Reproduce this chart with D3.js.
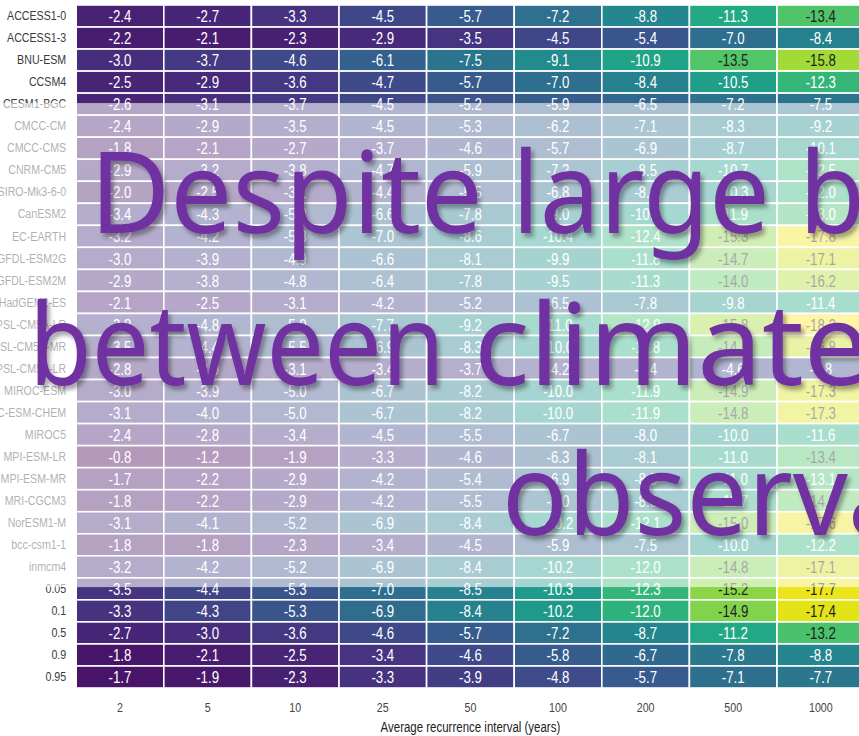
<!DOCTYPE html>
<html>
<head>
<meta charset="utf-8">
<script src="https://cdn.jsdelivr.net/npm/d3@7"></script>
<style>
  html, body { margin: 0; padding: 0; background: #fff; overflow: hidden; }
  svg { display: block; }
</style>
</head>
<body>
<svg id="chart" width="859" height="736"></svg>
<script>
// Return-interval columns (years)
const intervals = ["2", "5", "10", "25", "50", "100", "200", "500", "1000"];

// CMIP5 models, one row each
const models = [
  "ACCESS1-0", "ACCESS1-3", "BNU-ESM", "CCSM4", "CESM1-BGC", "CMCC-CM", "CMCC-CMS",
  "CNRM-CM5", "CSIRO-Mk3-6-0", "CanESM2", "EC-EARTH", "GFDL-ESM2G", "GFDL-ESM2M",
  "HadGEM2-ES", "IPSL-CM5A-LR", "IPSL-CM5A-MR", "IPSL-CM5B-LR", "MIROC-ESM",
  "MIROC-ESM-CHEM", "MIROC5", "MPI-ESM-LR", "MPI-ESM-MR", "MRI-CGCM3", "NorESM1-M",
  "bcc-csm1-1", "inmcm4"
];

// Ensemble quantile rows
const quantiles = ["0.05", "0.1", "0.5", "0.9", "0.95"];

// Change per model, by return interval
const modelValues = [
  [-2.4, -2.7, -3.3, -4.5, -5.7, -7.2, -8.8, -11.3, -13.4],
  [-2.2, -2.1, -2.3, -2.9, -3.5, -4.5, -5.4, -7.0, -8.4],
  [-3.0, -3.7, -4.6, -6.1, -7.5, -9.1, -10.9, -13.5, -15.8],
  [-2.5, -2.9, -3.6, -4.7, -5.7, -7.0, -8.4, -10.5, -12.3],
  [-2.6, -3.1, -3.7, -4.5, -5.2, -5.9, -6.5, -7.2, -7.5],
  [-2.4, -2.9, -3.5, -4.5, -5.3, -6.2, -7.1, -8.3, -9.2],
  [-1.8, -2.1, -2.7, -3.7, -4.6, -5.7, -6.9, -8.7, -10.1],
  [-2.9, -3.2, -3.8, -4.7, -5.9, -7.2, -8.5, -10.7, -12.5],
  [-2.0, -2.5, -3.2, -4.4, -5.5, -6.8, -8.4, -10.3, -12.0],
  [-3.4, -4.3, -5.2, -6.6, -7.8, -9.0, -10.4, -11.9, -13.0],
  [-3.2, -4.2, -5.3, -7.0, -8.6, -10.4, -12.4, -15.3, -17.8],
  [-3.0, -3.9, -4.9, -6.6, -8.1, -9.9, -11.8, -14.7, -17.1],
  [-2.9, -3.8, -4.8, -6.4, -7.8, -9.5, -11.3, -14.0, -16.2],
  [-2.1, -2.5, -3.1, -4.2, -5.2, -6.5, -7.8, -9.8, -11.4],
  [-3.8, -4.8, -5.9, -7.7, -9.2, -11.0, -12.9, -15.8, -18.2],
  [-3.5, -4.4, -5.5, -6.9, -8.3, -10.0, -11.8, -14.5, -16.8],
  [-2.8, -2.9, -3.1, -3.4, -3.7, -4.2, -4.4, -4.6, -4.8],
  [-3.0, -3.9, -5.0, -6.7, -8.2, -10.0, -11.9, -14.9, -17.3],
  [-3.1, -4.0, -5.0, -6.7, -8.2, -10.0, -11.9, -14.8, -17.3],
  [-2.4, -2.8, -3.4, -4.5, -5.5, -6.7, -8.0, -10.0, -11.6],
  [-0.8, -1.2, -1.9, -3.3, -4.6, -6.3, -8.1, -11.0, -13.4],
  [-1.7, -2.2, -2.9, -4.2, -5.4, -6.9, -8.5, -11.0, -13.1],
  [-1.8, -2.2, -2.9, -4.2, -5.5, -7.0, -8.8, -11.7, -14.0],
  [-3.1, -4.1, -5.2, -6.9, -8.4, -10.2, -12.1, -15.0, -17.6],
  [-1.8, -1.8, -2.3, -3.4, -4.5, -5.9, -7.5, -10.0, -12.2],
  [-3.2, -4.2, -5.2, -6.9, -8.4, -10.2, -12.0, -14.8, -17.1]
];

// Ensemble quantiles, by return interval
const quantileValues = [
  [-3.5, -4.4, -5.3, -7.0, -8.5, -10.3, -12.3, -15.2, -17.7],
  [-3.3, -4.3, -5.3, -6.9, -8.4, -10.2, -12.0, -14.9, -17.4],
  [-2.7, -3.0, -3.6, -4.6, -5.7, -7.2, -8.7, -11.2, -13.2],
  [-1.8, -2.1, -2.5, -3.4, -4.6, -5.8, -6.7, -7.8, -8.8],
  [-1.7, -1.9, -2.3, -3.3, -3.9, -4.8, -5.7, -7.1, -7.7]
];

// Headline words: text, left edge, baseline, and the advance width that the
// reference string "fit" should occupy at the word's horizontal scale
const headlineWords = [
  { text: "Despite", x: 90, y: 233, fit: "Despite", width: 393 },
  { text: "large", x: 512, y: 233, fit: "large", width: 258 },
  { text: "biases", x: 799, y: 233, fit: "large", width: 258 },
  { text: "between", x: 29, y: 385, fit: "between", width: 416 },
  { text: "climate models", x: 474, y: 385, fit: "climate", width: 395 },
  { text: "observations", x: 502, y: 535, fit: "observ", width: 346 }
];

const rowNames = models.concat(quantiles);
const allValues = modelValues.concat(quantileValues);
const cells = [];
rowNames.forEach((r, i) => intervals.forEach((c, j) => cells.push({ row: r, col: c, value: allValues[i][j] })));

const svg = d3.select("#chart");
const margin = { top: 5, left: 76.2 };
const plotW = 788.4, plotH = 683;

const x = d3.scaleBand().domain(intervals).range([margin.left, margin.left + plotW]);
const y = d3.scaleBand().domain(rowNames).range([margin.top, margin.top + plotH]);

const flat = allValues.flat();
const color = d3.scaleSequential(d3.interpolateViridis).domain([d3.max(flat), d3.min(flat)]);

// Condensed sans: regular Liberation Sans squeezed horizontally
const sans = "'Liberation Sans', Arial, sans-serif";
const squeeze = 0.82;

// Heat-map tiles
const g = svg.append("g");
g.selectAll("rect.cell").data(cells).join("rect")
  .attr("class", "cell")
  .attr("x", d => x(d.col))
  .attr("y", d => y(d.row))
  .attr("width", x.bandwidth())
  .attr("height", y.bandwidth())
  .attr("fill", d => color(d.value))
  .attr("stroke", "#fff")
  .attr("stroke-width", 1.6);

g.selectAll("text.val").data(cells).join("text")
  .attr("class", "val")
  .attr("transform", d => `translate(${x(d.col) + x.bandwidth() / 2},${y(d.row) + y.bandwidth() / 2}) scale(0.78,1)`)
  .attr("dy", "0.36em")
  .attr("text-anchor", "middle")
  .attr("font-family", sans)
  .attr("font-size", 17)
  .attr("fill", d => d.value < -13.15 ? "#1f1f1f" : "#ffffff")
  .text(d => d.value.toFixed(1));

// Axes
const yAxis = d3.axisLeft(y).tickSize(0).tickPadding(10 / squeeze);
svg.append("g").attr("transform", `translate(${margin.left},0)`).call(yAxis)
  .call(a => a.select(".domain").remove())
  .selectAll("text")
  .attr("transform", `scale(${squeeze},1)`)
  .attr("font-family", sans).attr("font-size", 13).attr("fill", "#3a3a3a");

const xAxis = d3.axisBottom(x).tickSize(0).tickPadding(14);
svg.append("g").attr("transform", `translate(0,${margin.top + plotH + 1})`).call(xAxis)
  .call(a => a.select(".domain").remove())
  .selectAll("text")
  .attr("transform", `scale(${squeeze},1)`)
  .attr("x", 0)
  .attr("font-family", sans).attr("font-size", 13).attr("fill", "#444");

svg.append("text")
  .attr("transform", `translate(${margin.left + plotW / 2},732) scale(${squeeze},1)`)
  .attr("text-anchor", "middle")
  .attr("font-family", sans)
  .attr("font-size", 14)
  .attr("fill", "#222")
  .text("Average recurrence interval (years)");

// Translucent white panel behind the headline
const bandTop = y("CESM1-BGC") + y.bandwidth() * 0.45;
const bandBottom = y("0.05") + y.bandwidth() * 0.42;
svg.append("rect")
  .attr("x", 0).attr("y", bandTop)
  .attr("width", 859).attr("height", bandBottom - bandTop)
  .attr("fill", "#fff").attr("fill-opacity", 0.6);

// Headline with soft drop shadow
const defs = svg.append("defs");
const f = defs.append("filter").attr("id", "shadow")
  .attr("x", "-5%").attr("y", "-10%").attr("width", "115%").attr("height", "130%");
f.append("feDropShadow")
  .attr("dx", 3).attr("dy", 4).attr("stdDeviation", 2.2)
  .attr("flood-color", "#000").attr("flood-opacity", 0.35);

const headFont = "'Noto Sans', 'Open Sans', sans-serif";
const headSize = 113;
const head = svg.append("g").attr("filter", "url(#shadow)");

function naturalWidth(str) {
  const t = head.append("text").attr("font-family", headFont).attr("font-size", headSize).text(str);
  const w = t.node().getComputedTextLength();
  t.remove();
  return w;
}

headlineWords.forEach(w => {
  const sx = w.width / naturalWidth(w.fit);
  head.append("text")
    .attr("transform", `translate(${w.x},${w.y}) scale(${sx},1)`)
    .attr("font-family", headFont)
    .attr("font-size", headSize)
    .attr("fill", "#7030A0")
    .text(w.text);
});
</script>
</body>
</html>
